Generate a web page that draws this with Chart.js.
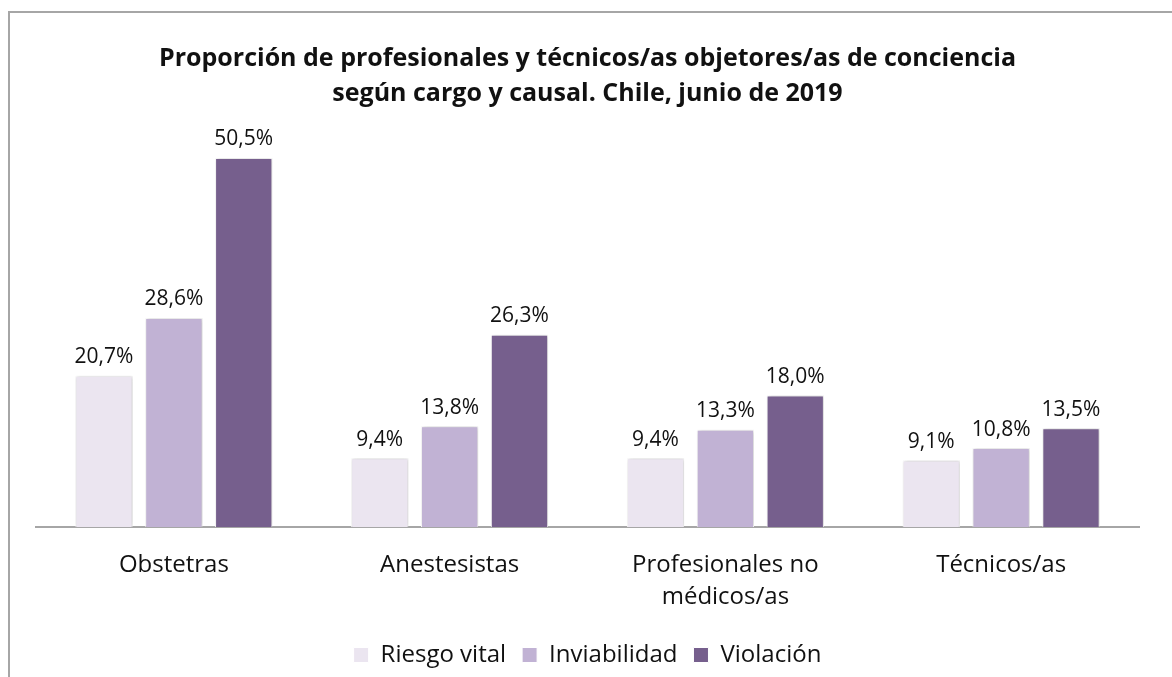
<!DOCTYPE html>
<html>
<head>
<meta charset="utf-8">
<script src="https://cdn.jsdelivr.net/npm/chart.js@4/dist/chart.umd.min.js"></script>
<style>
  html, body { margin: 0; padding: 0; background: #fff; }
  .frame {
    position: absolute;
    left: 8px;
    top: 11px;
    width: 1164px;
    height: 666px;
    border-left: 2px solid #a6a6a6;
    border-top: 2px solid #a6a6a6;
  }
  canvas { display: block; }
</style>
</head>
<body>
<div class="frame">
  <canvas id="chart" width="1162" height="664"></canvas>
</div>
<script>
const categories = ['Obstetras', 'Anestesistas', ['Profesionales no', 'médicos/as'], 'Técnicos/as'];
const riesgoVital = [20.7, 9.4, 9.4, 9.1];
const inviabilidad = [28.6, 13.8, 13.3, 10.8];
const violacion = [50.5, 26.3, 18.0, 13.5];
const seriesNames = ['Riesgo vital', 'Inviabilidad', 'Violación'];
const seriesColors = ['#ebe5f0', '#c1b2d4', '#765f8d'];

const fontFamily = '"Open Sans", "Noto Sans", sans-serif';
const textColor = '#111111';
const plotBottom = 514; // where the axis line should sit, in canvas px

// soft shadow behind bars, like the office chart
const barShadow = {
  id: 'barShadow',
  beforeDatasetsDraw(chart) {
    const ctx = chart.ctx;
    ctx.save();
    ctx.shadowColor = 'rgba(0, 0, 0, 0.22)';
    ctx.shadowBlur = 4;
    ctx.shadowOffsetX = 1;
    ctx.shadowOffsetY = 0;
  },
  afterDatasetsDraw(chart) {
    chart.ctx.restore();
  },
};

const valueLabels = {
  id: 'valueLabels',
  afterDatasetsDraw(chart) {
    const ctx = chart.ctx;
    ctx.save();
    ctx.font = `21px ${fontFamily}`;
    ctx.fillStyle = textColor;
    ctx.textAlign = 'center';
    ctx.textBaseline = 'bottom';
    chart.data.datasets.forEach((dataset, i) => {
      chart.getDatasetMeta(i).data.forEach((bar, j) => {
        const text = dataset.data[j].toFixed(1).replace('.', ',') + '%';
        ctx.fillText(text, bar.x, bar.y - 8);
      });
    });
    ctx.restore();
  },
};

new Chart(document.getElementById('chart'), {
  type: 'bar',
  data: {
    labels: categories,
    datasets: [riesgoVital, inviabilidad, violacion].map((values, i) => ({
      label: seriesNames[i],
      data: values,
      backgroundColor: seriesColors[i],
      borderColor: '#ffffff',
      borderWidth: 1,
      categoryPercentage: 0.76,
      barPercentage: 0.82,
    })),
  },
  options: {
    responsive: false,
    animation: false,
    layout: { padding: { left: 26, right: 33, top: 0, bottom: 0 } },
    plugins: {
      title: {
        display: true,
        text: [
          'Proporción de profesionales y técnicos/as objetores/as de conciencia',
          'según cargo y causal. Chile, junio de 2019',
        ],
        color: textColor,
        font: { family: fontFamily, size: 25, weight: 'bold', lineHeight: 1.4 },
        padding: { top: 28, bottom: 14 },
      },
      legend: {
        position: 'bottom',
        labels: {
          color: textColor,
          font: { family: fontFamily, size: 24 },
          boxWidth: 15,
          boxHeight: 15,
          padding: 16,
          useBorderRadius: false,
        },
      },
      tooltip: { enabled: false },
    },
    scales: {
      x: {
        grid: { display: false },
        border: { display: true, color: '#a6a6a6', width: 2 },
        ticks: {
          color: textColor,
          font: { family: fontFamily, size: 24, lineHeight: 1.35 },
          padding: 14,
          maxRotation: 0,
        },
        afterFit(scale) {
          const legend = scale.chart.legend;
          scale.height = scale.chart.height - legend.height - plotBottom;
        },
      },
      y: {
        display: false,
        min: 0,
        max: 55,
      },
    },
  },
  plugins: [barShadow, valueLabels],
});
</script>
</body>
</html>
